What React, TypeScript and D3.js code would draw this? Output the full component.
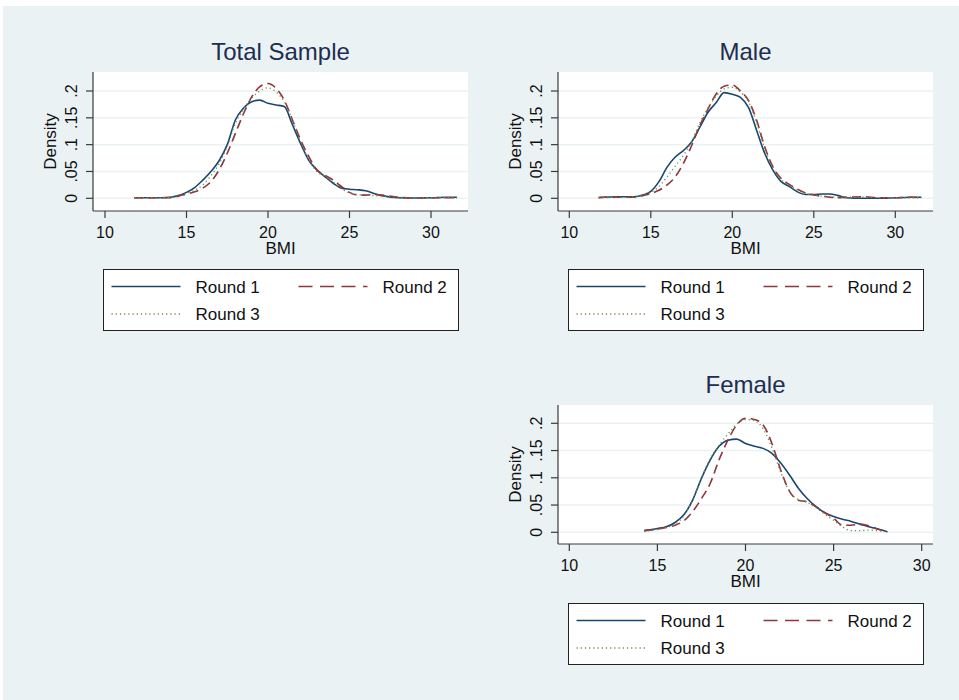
import React from "react";
import * as d3 from "d3";

// BMI grid where the densities were read (Total and Male share one, Female has its own)
const bmiGrid = [11.8, 13, 14, 14.5, 15, 15.5, 16, 16.5, 17, 17.5, 18, 18.5, 19, 19.5, 20, 20.5, 21, 21.5, 22, 22.5, 23, 23.5, 24, 24.5, 25, 25.5, 26, 26.5, 27, 28, 29, 30, 31, 31.6];
const bmiGridFemale = [14.25, 15, 15.5, 16, 16.5, 17, 17.5, 18, 18.5, 19, 19.5, 20, 20.5, 21, 21.5, 22, 22.5, 23, 23.5, 24, 24.5, 25, 25.5, 26, 26.5, 27, 27.5, 28.05];

const totalRound1 = [0.001, 0.001, 0.002, 0.005, 0.011, 0.02, 0.034, 0.05, 0.07, 0.1, 0.146, 0.168, 0.18, 0.183, 0.177, 0.174, 0.171, 0.137, 0.102, 0.071, 0.053, 0.04, 0.028, 0.019, 0.017, 0.016, 0.014, 0.009, 0.005, 0.001, 0.0005, 0.001, 0.002, 0.002];
const totalRound2 = [0.001, 0.001, 0.001, 0.004, 0.008, 0.012, 0.019, 0.031, 0.053, 0.084, 0.121, 0.158, 0.189, 0.208, 0.214, 0.205, 0.183, 0.146, 0.109, 0.078, 0.053, 0.043, 0.034, 0.022, 0.011, 0.006, 0.006, 0.007, 0.006, 0.002, 0.001, 0.001, 0.001, 0.001];
const totalRound3 = [0.001, 0.001, 0.002, 0.005, 0.009, 0.015, 0.025, 0.042, 0.064, 0.097, 0.14, 0.166, 0.187, 0.2, 0.206, 0.198, 0.18, 0.145, 0.105, 0.072, 0.05, 0.04, 0.03, 0.018, 0.01, 0.007, 0.006, 0.005, 0.004, 0.002, 0.001, 0.001, 0.001, 0.001];

const maleRound1 = [0.001, 0.003, 0.003, 0.006, 0.013, 0.031, 0.058, 0.077, 0.089, 0.105, 0.132, 0.16, 0.178, 0.197, 0.194, 0.188, 0.169, 0.126, 0.083, 0.052, 0.031, 0.022, 0.012, 0.007, 0.007, 0.008, 0.008, 0.005, 0.001, 0, 0, 0.001, 0.002, 0.002];
const maleRound2 = [0.002, 0.002, 0.002, 0.005, 0.009, 0.015, 0.025, 0.04, 0.065, 0.098, 0.135, 0.166, 0.194, 0.209, 0.211, 0.2, 0.182, 0.145, 0.095, 0.058, 0.037, 0.026, 0.017, 0.01, 0.006, 0.004, 0.002, 0.001, 0.002, 0.003, 0.001, 0.001, 0.002, 0.001];
const maleRound3 = [0.001, 0.002, 0.003, 0.006, 0.011, 0.022, 0.04, 0.06, 0.08, 0.105, 0.14, 0.168, 0.19, 0.204, 0.207, 0.198, 0.18, 0.14, 0.092, 0.056, 0.035, 0.024, 0.015, 0.009, 0.006, 0.004, 0.003, 0.002, 0.002, 0.002, 0.001, 0.001, 0.001, 0.001];

const femaleRound1 = [0.003, 0.007, 0.01, 0.018, 0.032, 0.059, 0.099, 0.133, 0.158, 0.169, 0.171, 0.163, 0.158, 0.154, 0.145, 0.127, 0.105, 0.081, 0.062, 0.047, 0.036, 0.029, 0.024, 0.02, 0.015, 0.01, 0.006, 0.001];
const femaleRound2 = [0.003, 0.006, 0.009, 0.013, 0.021, 0.038, 0.062, 0.09, 0.133, 0.169, 0.197, 0.209, 0.207, 0.197, 0.163, 0.114, 0.075, 0.059, 0.056, 0.047, 0.036, 0.026, 0.013, 0.013, 0.015, 0.012, 0.006, 0.001];
const femaleRound3 = [0.002, 0.005, 0.009, 0.015, 0.03, 0.06, 0.1, 0.135, 0.16, 0.18, 0.198, 0.207, 0.205, 0.19, 0.155, 0.11, 0.075, 0.06, 0.055, 0.045, 0.033, 0.022, 0.01, 0.003, 0.003, 0.004, 0.003, 0.001];

const xTicks = [10, 15, 20, 25, 30];
const yTicks = [0, 0.05, 0.1, 0.15, 0.2];
const yTickLabels = ["0", ".05", ".1", ".15", ".2"];
const roundNames = ["Round 1", "Round 2", "Round 3"];

const FONT = "'Liberation Sans', Arial, Helvetica, sans-serif";
const BG = "#eaf2f3";
const AXIS = "#3a3a3a";
const styles = [
  { color: "#1a476f", dash: null, width: 1.6, legendDash: null },
  { color: "#90353b", dash: "9,5", width: 1.6, legendDash: "14,7.5" },
  { color: "#6b8a4a", dash: "1.2,3", width: 1.3, legendDash: "1.2,3" },
];

type Panel = {
  title: string;
  grid: number[];
  series: number[][];
  left: number;
  right: number;
  top: number;
  bottom: number;
  x10: number;
  x30: number;
  y0: number;
  y2: number;
  legendTop: number;
};

const panels: Panel[] = [
  { title: "Total Sample", grid: bmiGrid, series: [totalRound1, totalRound2, totalRound3], left: 93, right: 468, top: 72, bottom: 211, x10: 105, x30: 431, y0: 198.3, y2: 91, legendTop: 269.5 },
  { title: "Male", grid: bmiGrid, series: [maleRound1, maleRound2, maleRound3], left: 558, right: 933, top: 72, bottom: 211, x10: 569.3, x30: 895.3, y0: 198.3, y2: 91, legendTop: 269.5 },
  { title: "Female", grid: bmiGridFemale, series: [femaleRound1, femaleRound2, femaleRound3], left: 558, right: 933, top: 405, bottom: 544, x10: 569.3, x30: 921.7, y0: 532.3, y2: 423.3, legendTop: 603.5 },
];

function Legend({ x, y }: { x: number; y: number }) {
  const w = 355;
  const h = 61;
  const rows = [
    { i: 0, lx: 8, ly: 17 },
    { i: 1, lx: 195, ly: 17 },
    { i: 2, lx: 8, ly: 44.5 },
  ];
  return (
    <g transform={`translate(${x},${y})`}>
      <rect width={w} height={h} fill="#fff" stroke="#222" strokeWidth={1} />
      {rows.map((r) => {
        const s = styles[r.i];
        return (
          <g key={r.i}>
            <line x1={r.lx} x2={r.lx + 69} y1={r.ly} y2={r.ly} stroke={s.color} strokeWidth={s.width} strokeDasharray={s.legendDash ?? undefined} />
            <text x={r.lx + 84} y={r.ly + 6} fontSize={17} fill="#111">{roundNames[r.i]}</text>
          </g>
        );
      })}
    </g>
  );
}

function PanelView({ p }: { p: Panel }) {
  const x = d3.scaleLinear().domain([10, 30]).range([p.x10, p.x30]);
  const y = d3.scaleLinear().domain([0, 0.2]).range([p.y0, p.y2]);
  const line = d3
    .line<number>()
    .x((_, i) => x(p.grid[i]))
    .y((d) => y(d))
    .curve(d3.curveMonotoneX);
  const cx = (p.left + p.right) / 2;
  const cy = (p.top + p.bottom) / 2;
  return (
    <g>
      <text x={cx} y={p.top - 12} textAnchor="middle" fontSize={24} fill="#1e2d52">{p.title}</text>
      <rect x={p.left} y={p.top} width={p.right - p.left} height={p.bottom - p.top} fill="#fff" />
      {yTicks.map((t) => (
        <line key={"g" + t} x1={p.left} x2={p.right} y1={y(t)} y2={y(t)} stroke={BG} strokeWidth={1.5} />
      ))}
      {p.series.map((s, i) => (
        <path key={i} d={line(s) ?? ""} fill="none" stroke={styles[i].color} strokeWidth={styles[i].width} strokeDasharray={styles[i].dash ?? undefined} />
      ))}
      <line x1={p.left} x2={p.left} y1={p.top} y2={p.bottom} stroke={AXIS} strokeWidth={1.2} />
      <line x1={p.left} x2={p.right} y1={p.bottom} y2={p.bottom} stroke={AXIS} strokeWidth={1.2} />
      {yTicks.map((t, i) => (
        <g key={"y" + t}>
          <line x1={p.left - 7} x2={p.left} y1={y(t)} y2={y(t)} stroke={AXIS} strokeWidth={1.2} />
          <text transform={`translate(${p.left - 16},${y(t)}) rotate(-90)`} textAnchor="middle" fontSize={16} fill="#111">{yTickLabels[i]}</text>
        </g>
      ))}
      {xTicks.map((t) => (
        <g key={"x" + t}>
          <line x1={x(t)} x2={x(t)} y1={p.bottom} y2={p.bottom + 7} stroke={AXIS} strokeWidth={1.2} />
          <text x={x(t)} y={p.bottom + 26.5} textAnchor="middle" fontSize={16} fill="#111">{t}</text>
        </g>
      ))}
      <text transform={`translate(${p.left - 37},${cy}) rotate(-90)`} textAnchor="middle" fontSize={17} fill="#111">Density</text>
      <text x={cx} y={p.bottom + 43} textAnchor="middle" fontSize={17} fill="#111">BMI</text>
      <Legend x={p.left + 10.5} y={p.legendTop} />
    </g>
  );
}

export default function App() {
  return (
    <>
      <style>{`body{margin:0}`}</style>
      <svg width={959} height={700} style={{ display: "block", fontFamily: FONT }}>
        <rect x={0} y={0} width={959} height={700} fill="#fff" />
        <rect x={3} y={6} width={956} height={694} fill={BG} />
        {panels.map((p) => (
          <PanelView key={p.title} p={p} />
        ))}
      </svg>
    </>
  );
}
